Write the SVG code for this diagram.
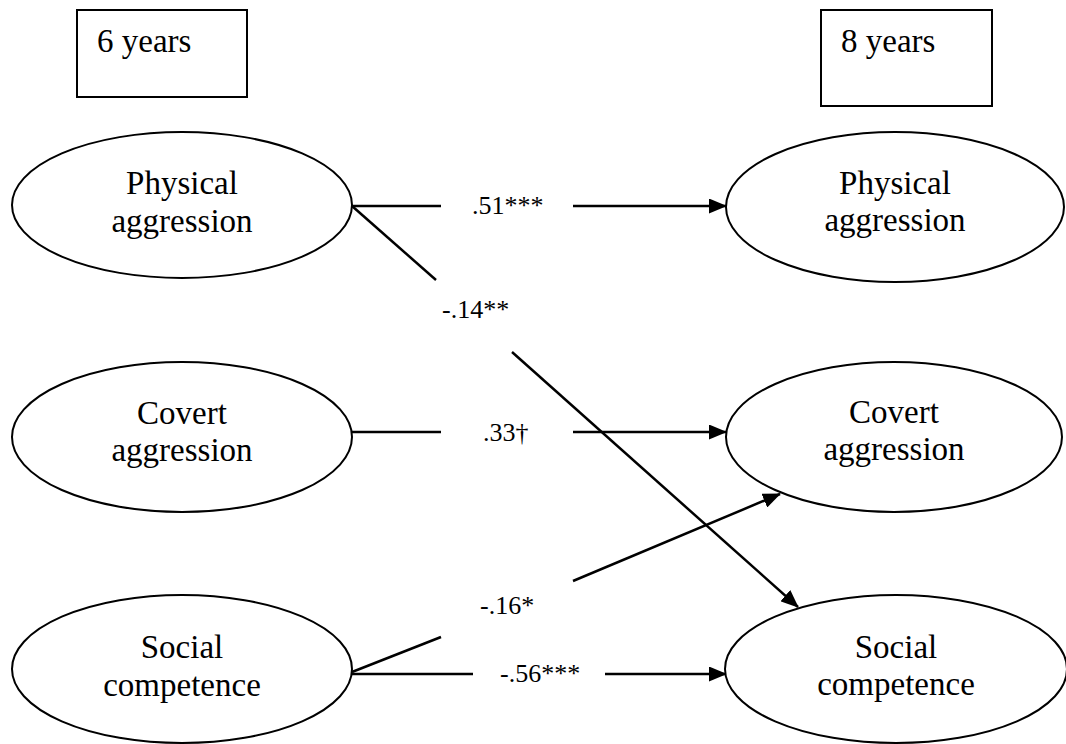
<svg xmlns="http://www.w3.org/2000/svg" width="1066" height="744" viewBox="0 0 1066 744">
<style>
.box{fill:#fff;stroke:#000;stroke-width:2}
.node{fill:#fff;stroke:#000;stroke-width:2}
.t{font-family:"Liberation Serif","Times New Roman",serif;font-size:33px;fill:#000}
.c{text-anchor:middle}
.lab{font-family:"Liberation Serif","Times New Roman",serif;font-size:26px;fill:#000}
.ln{stroke:#000;stroke-width:2.5;fill:none}
</style>
<defs>
<marker id="ah" markerWidth="18" markerHeight="15" refX="17" refY="7.5" orient="auto" markerUnits="userSpaceOnUse" viewBox="0 0 18 15">
<path d="M0,0 L18,7.5 L0,15 Z" fill="#000"/>
</marker>
</defs>
<g id="hdr6"><rect class="box" x="77" y="10" width="170" height="87"/><text class="t" x="97" y="52">6 years</text></g>
<g id="hdr8"><rect class="box" x="821" y="10" width="171" height="96"/><text class="t" x="841" y="52">8 years</text></g>

<g id="connectors">
<line class="ln" x1="352" y1="206" x2="441" y2="206"/>
<line class="ln" x1="573" y1="206" x2="726" y2="206" marker-end="url(#ah)"/>
<line class="ln" x1="352" y1="206" x2="436" y2="280"/>
<line class="ln" x1="512" y1="352" x2="798" y2="607" marker-end="url(#ah)"/>
<line class="ln" x1="352" y1="432" x2="441" y2="432"/>
<line class="ln" x1="573" y1="432" x2="726" y2="432" marker-end="url(#ah)"/>
<line class="ln" x1="352" y1="672" x2="441" y2="637"/>
<line class="ln" x1="573" y1="581" x2="780" y2="494" marker-end="url(#ah)"/>
<line class="ln" x1="352" y1="674" x2="473" y2="674"/>
<line class="ln" x1="605" y1="674" x2="726" y2="674" marker-end="url(#ah)"/>
<text class="lab" x="472" y="214">.51***</text>
<text class="lab" x="442" y="318">-.14**</text>
<text class="lab" x="483" y="441">.33†</text>
<text class="lab" x="480" y="614">-.16*</text>
<text class="lab" x="500" y="682">-.56***</text>
</g>

<g id="phys6"><ellipse class="node" cx="182" cy="205" rx="170" ry="73"/><text class="t c" x="182" y="194">Physical</text><text class="t c" x="182" y="232">aggression</text></g>
<g id="cov6"><ellipse class="node" cx="182" cy="437" rx="170" ry="75"/><text class="t c" x="182" y="424">Covert</text><text class="t c" x="182" y="461">aggression</text></g>
<g id="soc6"><ellipse class="node" cx="182" cy="669" rx="170" ry="74"/><text class="t c" x="182" y="658">Social</text><text class="t c" x="182" y="696">competence</text></g>
<g id="phys8"><ellipse class="node" cx="895" cy="207" rx="169" ry="75"/><text class="t c" x="895" y="194">Physical</text><text class="t c" x="895" y="231">aggression</text></g>
<g id="cov8"><ellipse class="node" cx="894" cy="437" rx="168" ry="75"/><text class="t c" x="894" y="423">Covert</text><text class="t c" x="894" y="460">aggression</text></g>
<g id="soc8"><ellipse class="node" cx="896" cy="669" rx="171" ry="74"/><text class="t c" x="896" y="658">Social</text><text class="t c" x="896" y="695">competence</text></g>
</svg>
